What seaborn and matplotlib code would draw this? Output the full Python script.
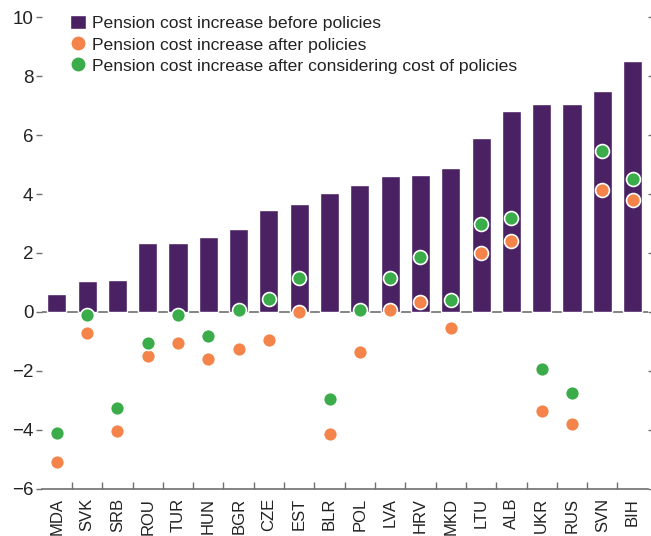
import matplotlib
matplotlib.use("Agg")
import matplotlib.pyplot as plt
from matplotlib.lines import Line2D
from matplotlib.patches import Patch
from matplotlib.ticker import FixedLocator
import numpy as np
import pandas as pd
import seaborn as sns

# ── Data ──────────────────────────────────────────────────────────────────────
countries = ["MDA", "SVK", "SRB", "ROU", "TUR", "HUN", "BGR", "CZE", "EST", "BLR",
             "POL", "LVA", "HRV", "MKD", "LTU", "ALB", "UKR", "RUS", "SVN", "BIH"]
before = [0.6, 1.05, 1.1, 2.35, 2.35, 2.55, 2.8, 3.45, 3.65, 4.05,
          4.3, 4.6, 4.65, 4.9, 5.9, 6.8, 7.05, 7.05, 7.5, 8.5]
after = [-5.1, -0.7, -4.05, -1.5, -1.05, -1.6, -1.25, -0.95, 0.0, -4.15,
         -1.35, 0.05, 0.35, -0.55, 2.0, 2.4, -3.35, -3.8, 4.15, 3.8]
after_cost = [-4.1, -0.1, -3.25, -1.05, -0.1, -0.8, 0.05, 0.45, 1.15, -2.95,
              0.05, 1.15, 1.85, 0.4, 3.0, 3.2, -1.95, -2.75, 5.45, 4.5]
y_ticks = [-6, -4, -2, 0, 2, 4, 6, 8, 10]

PURPLE = "#4a2163"
ORANGE = "#f4844a"
GREEN = "#3aac4a"
GREY = "#707070"
TEXT = "#222222"

df = pd.DataFrame({"country": countries, "before": before,
                   "after": after, "after_cost": after_cost})

sns.set_style("white")
plt.rcParams["font.family"] = ["Liberation Sans", "DejaVu Sans"]

fig, ax = plt.subplots(figsize=(6.51, 5.36), dpi=100)

# ── Marks ─────────────────────────────────────────────────────────────────────
ax.axhline(0, color=GREY, lw=1.2, zorder=0)
sns.barplot(data=df, x="country", y="before", order=countries, color=PURPLE,
            width=0.63, saturation=1, ax=ax, zorder=2)
sns.stripplot(data=df, x="country", y="after", order=countries, color=ORANGE,
              jitter=False, size=10, linewidth=1.2, edgecolor="white", ax=ax, zorder=3)
sns.stripplot(data=df, x="country", y="after_cost", order=countries, color=GREEN,
              jitter=False, size=10, linewidth=1.2, edgecolor="white", ax=ax, zorder=4)

# ── Axes ──────────────────────────────────────────────────────────────────────
ax.set_xlim(-0.5, len(countries) - 0.5)
ax.set_ylim(-6, 10)
ax.set_xlabel("")
ax.set_ylabel("")

ax.set_yticks(y_ticks)
ax.set_yticklabels([str(v).replace("-", "\u2212") for v in y_ticks], fontsize=13.5)
ax.tick_params(axis="y", left=True, right=True, direction="out", length=4,
               color=GREY, width=1, pad=2, labelcolor=TEXT)
ax.tick_params(axis="x", bottom=False, labelsize=12, labelrotation=90, pad=3,
               labelcolor=TEXT)
ax.xaxis.set_minor_locator(FixedLocator(np.arange(0.5, len(countries) - 1, 1)))
ax.tick_params(axis="x", which="minor", bottom=True, direction="in", length=5,
               color=GREY, width=1)

for side in ["top", "right", "left"]:
    ax.spines[side].set_visible(False)
ax.spines["bottom"].set_color(GREY)
ax.spines["bottom"].set_linewidth(1.2)

# ── Legend ────────────────────────────────────────────────────────────────────
handles = [
    Patch(facecolor=PURPLE, label="Pension cost increase before policies"),
    Line2D([], [], marker="o", ls="", markerfacecolor=ORANGE, markeredgecolor="white",
           markersize=11, label="Pension cost increase after policies"),
    Line2D([], [], marker="o", ls="", markerfacecolor=GREEN, markeredgecolor="white",
           markersize=11, label="Pension cost increase after considering cost of policies"),
]
ax.legend(handles=handles, loc="upper left", bbox_to_anchor=(0.035, 1.02), frameon=False,
          fontsize=12.6, handlelength=0.9, handleheight=0.9, handletextpad=0.35,
          labelspacing=0.3, borderaxespad=0, labelcolor=TEXT)

plt.subplots_adjust(left=0.064, right=0.995, top=0.968, bottom=0.088)
plt.savefig("out.png", dpi=100)
